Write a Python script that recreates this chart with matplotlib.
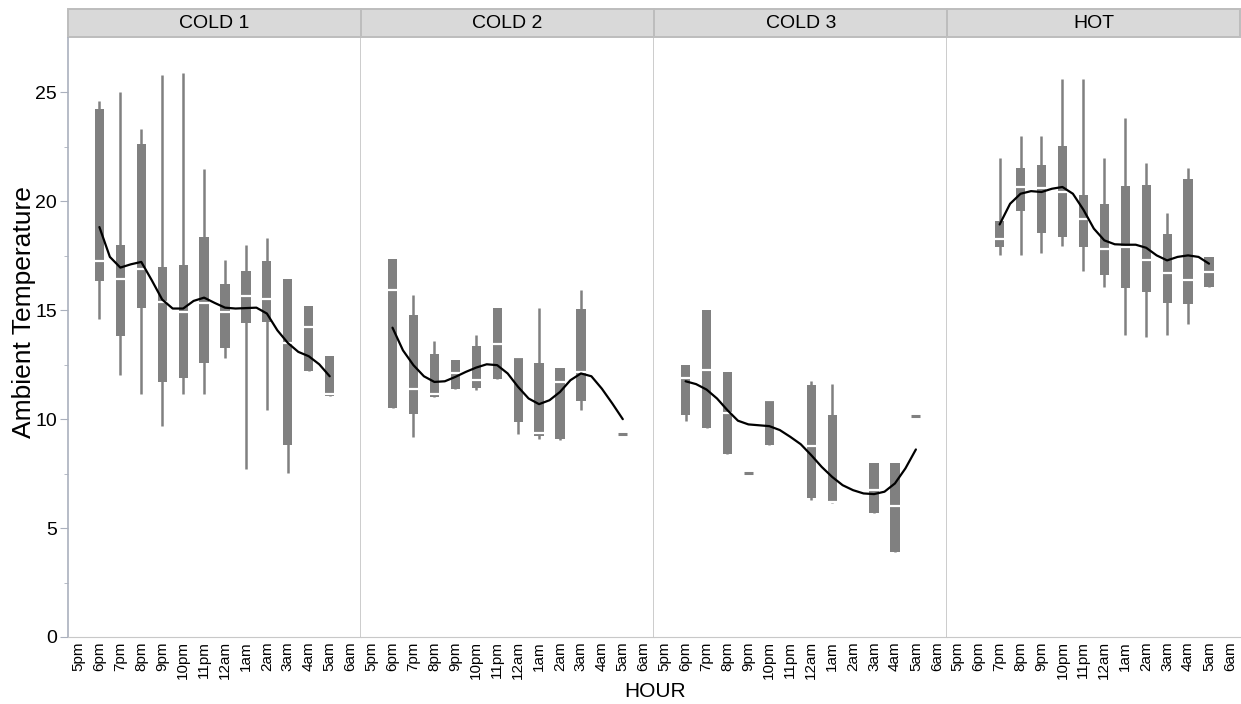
import numpy as np
import matplotlib
matplotlib.use('Agg')
import matplotlib.pyplot as plt
from matplotlib.patches import Rectangle

plt.rcParams['font.family'] = ['Liberation Sans', 'DejaVu Sans']

nan = np.nan

hours = ['5pm', '6pm', '7pm', '8pm', '9pm', '10pm', '11pm', '12am',
         '1am', '2am', '3am', '4am', '5am', '6am']
panels = ['COLD 1', 'COLD 2', 'COLD 3', 'HOT']

# box statistics per panel, one value per hour (nan = no data)
cold1_hi  = [nan, 24.6, 25.0, 23.3, 25.8, 25.9, 21.5, 17.3, 18.0, 18.3, 16.45, 15.2, 12.9, nan]
cold1_q3  = [nan, 24.25, 18.0, 22.65, 17.0, 17.1, 18.35, 16.2, 16.8, 17.25, 16.45, 15.2, 12.9, nan]
cold1_med = [nan, 17.25, 16.45, 16.9, 15.4, 14.9, 15.35, 14.9, 15.65, 15.5, 13.5, 14.25, 11.15, nan]
cold1_q1  = [nan, 16.35, 13.8, 15.1, 11.7, 11.9, 12.6, 13.25, 14.4, 14.45, 8.8, 12.2, 11.05, nan]
cold1_lo  = [nan, 14.6, 12.05, 11.15, 9.7, 11.15, 11.15, 12.8, 7.7, 10.4, 7.55, 12.2, 11.05, nan]

cold2_hi  = [nan, 17.35, 15.7, 13.6, 12.7, 13.85, 15.1, 12.9, 15.1, 12.35, 15.95, nan, 9.3, nan]
cold2_q3  = [nan, 17.35, 14.8, 13.0, 12.7, 13.35, 15.1, 12.9, 12.6, 12.35, 15.05, nan, 9.3, nan]
cold2_med = [nan, 15.95, 11.4, 11.15, 12.1, 11.8, 13.45, 12.85, 9.35, 11.7, 12.15, nan, 9.3, nan]
cold2_q1  = [nan, 10.5, 10.25, 11.0, 11.4, 11.45, 11.85, 9.85, 9.25, 9.1, 10.85, nan, 9.3, nan]
cold2_lo  = [nan, 10.5, 9.2, 11.0, 11.4, 11.35, 11.85, 9.3, 9.1, 9.05, 10.4, nan, 9.3, nan]

cold3_hi  = [nan, 12.5, 15.0, 12.15, 7.55, 10.9, nan, 11.75, 11.6, nan, 8.0, 8.0, 10.15, nan]
cold3_q3  = [nan, 12.5, 15.0, 12.15, 7.55, 10.9, nan, 11.55, 10.2, nan, 8.0, 8.0, 10.15, nan]
cold3_med = [nan, 11.9, 12.25, 10.3, 7.55, 10.9, nan, 8.75, 6.2, nan, 6.75, 6.0, 10.15, nan]
cold3_q1  = [nan, 10.2, 9.6, 8.4, 7.55, 8.8, nan, 6.4, 6.15, nan, 5.7, 3.9, 10.15, nan]
cold3_lo  = [nan, 9.9, 9.6, 8.4, 7.55, 8.8, nan, 6.3, 6.15, nan, 5.7, 3.9, 10.15, nan]

hot_hi  = [nan, nan, 22.0, 23.0, 23.0, 25.6, 25.6, 22.0, 23.85, 21.75, 19.45, 21.55, 17.45, nan]
hot_q3  = [nan, nan, 19.1, 21.55, 21.65, 22.55, 20.3, 19.9, 20.7, 20.75, 18.5, 21.05, 17.45, nan]
hot_med = [nan, nan, 18.25, 20.65, 20.6, 20.45, 19.2, 17.8, 17.9, 17.3, 16.7, 16.4, 16.75, nan]
hot_q1  = [nan, nan, 17.9, 19.55, 18.55, 18.35, 17.9, 16.6, 16.0, 15.85, 15.35, 15.3, 16.05, nan]
hot_lo  = [nan, nan, 17.55, 17.55, 17.65, 17.95, 16.8, 16.05, 13.85, 13.75, 13.85, 14.35, 16.05, nan]

# smoother read every half hour, starting at the given hour index
cold1_fit_start = 1
cold1_fit = [18.82, 17.45, 16.96, 17.11, 17.22, 16.38, 15.49, 15.08, 15.08, 15.43, 15.58, 15.34,
             15.12, 15.08, 15.1, 15.12, 14.85, 14.08, 13.5, 13.09, 12.89, 12.52, 11.97]
cold2_fit_start = 1
cold2_fit = [14.2, 13.16, 12.48, 11.97, 11.71, 11.74, 11.94, 12.17, 12.37, 12.52, 12.48, 12.1,
             11.48, 10.95, 10.69, 10.87, 11.25, 11.79, 12.1, 11.97, 11.4, 10.72, 10.0]
cold3_fit_start = 1
cold3_fit = [11.74, 11.61, 11.36, 10.95, 10.41, 9.93, 9.76, 9.72, 9.68, 9.5, 9.19, 8.85,
             8.35, 7.81, 7.35, 6.97, 6.74, 6.59, 6.56, 6.67, 7.05, 7.74, 8.61]
hot_fit_start = 2
hot_fit = [18.94, 19.89, 20.35, 20.47, 20.43, 20.58, 20.66, 20.35, 19.62, 18.75, 18.21,
           18.03, 18.01, 18.01, 17.87, 17.52, 17.29, 17.45, 17.52, 17.45, 17.14]

stats = [
    (cold1_lo, cold1_q1, cold1_med, cold1_q3, cold1_hi, cold1_fit_start, cold1_fit),
    (cold2_lo, cold2_q1, cold2_med, cold2_q3, cold2_hi, cold2_fit_start, cold2_fit),
    (cold3_lo, cold3_q1, cold3_med, cold3_q3, cold3_hi, cold3_fit_start, cold3_fit),
    (hot_lo, hot_q1, hot_med, hot_q3, hot_hi, hot_fit_start, hot_fit),
]

BOX = '#808080'
AXIS = '#aab0bd'
SEP = '#c4c4c4'

fig, axes = plt.subplots(1, 4, sharey=True, figsize=(12.41, 7.04), dpi=100)
fig.subplots_adjust(left=0.0548, right=0.9995, bottom=0.0952, top=0.946, wspace=0)

x = np.arange(len(hours))
bw = 0.44

for i, ax in enumerate(axes):
    lo, q1, med, q3, hi, fstart, fit = [np.asarray(v, dtype=float) if isinstance(v, list) else v
                                        for v in stats[i]]
    ok = ~np.isnan(q1)
    # whiskers
    ax.vlines(x[ok], lo[ok], hi[ok], color=BOX, lw=1.8, zorder=2)
    # boxes
    ax.bar(x[ok], q3[ok] - q1[ok], bottom=q1[ok], width=bw, color=BOX, zorder=3)
    # single-value dashes
    flat = ok & (q3 - q1 < 0.01)
    ax.hlines(med[flat], x[flat] - bw / 2, x[flat] + bw / 2, color=BOX, lw=2.2, zorder=3)
    # medians
    solid = ok & ~flat
    ax.hlines(med[solid], x[solid] - bw / 2, x[solid] + bw / 2, color='white', lw=1.6, zorder=4)
    # smoother
    fx = fstart + 0.5 * np.arange(len(fit))
    ax.plot(fx, fit, color='black', lw=1.6, zorder=5, solid_capstyle='round')

    ax.set_xlim(-0.5, len(hours) - 0.5)
    ax.set_xticks(x)
    ax.set_xticklabels(hours, rotation=90, fontsize=11)
    ax.tick_params(axis='x', length=0, pad=3)
    ax.spines['top'].set_visible(False)
    ax.spines['bottom'].set_color('#c8c8c8')
    ax.spines['right'].set_visible(False)
    if i < 3:
        # panel separator
        ax.axvline(len(hours) - 0.5, color=SEP, lw=1.2, zorder=1, clip_on=False)
    if i == 0:
        ax.spines['left'].set_color(AXIS)
        ax.spines['left'].set_linewidth(1.2)
    else:
        ax.spines['left'].set_visible(False)
        ax.tick_params(axis='y', left=False, which='both')

    # facet header
    h = 1 / 599
    ax.add_patch(Rectangle((0, 1 + h), 1, 28 * h, transform=ax.transAxes, clip_on=False,
                           facecolor='#d9d9d9', edgecolor='#bdbdbd', lw=1.4))
    ax.text(0.5, 1 + 15 * h, panels[i], transform=ax.transAxes, ha='center', va='center',
            fontsize=14)

axes[0].set_ylim(0, 27.5)
axes[0].set_yticks([0, 5, 10, 15, 20, 25])
axes[0].set_yticks(np.arange(0, 27.5, 2.5), minor=True)
axes[0].tick_params(axis='y', which='major', length=6, color=AXIS, labelsize=14, pad=2)
axes[0].tick_params(axis='y', which='minor', length=3, color=AXIS)

fig.text(0.019, 0.557, 'Ambient Temperature', rotation=90, ha='center', va='center', fontsize=19)
fig.text(0.5275, 0.018, 'HOUR', ha='center', va='center', fontsize=15)

fig.savefig('out.png', dpi=100)
